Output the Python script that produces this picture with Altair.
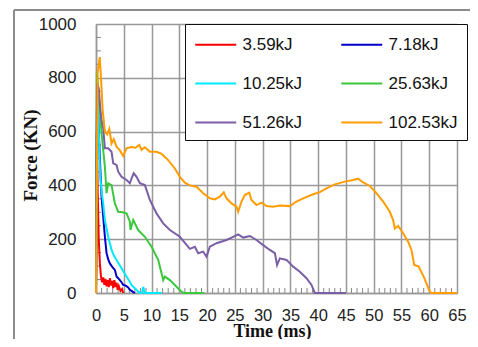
import altair as alt
import pandas as pd

series_names = ["3.59kJ", "7.18kJ", "10.25kJ", "25.63kJ", "51.26kJ", "102.53kJ"]
series_colors = ["#ff0000", "#0000c8", "#00e8ff", "#3cc83c", "#7a5ea6", "#ff9c00"]

t_359 = [0, 0.15, 0.3, 0.5, 0.7, 0.9, 1.1, 1.3, 1.5, 1.7, 1.9, 2.1, 2.3, 2.5, 2.7, 2.9, 3.1, 3.3, 3.5, 3.7, 3.9, 4.1, 4.4, 4.7, 4.9]
f_359 = [0, 600, 380, 200, 110, 60, 40, 58, 30, 52, 25, 48, 22, 55, 28, 45, 18, 48, 22, 38, 12, 26, 8, 15, 0]

t_718 = [0, 0.2, 0.5, 0.8, 1.0, 1.3, 1.6, 1.9, 2.2, 2.5, 3.0, 3.4, 3.7, 4.0, 4.3, 4.6, 4.9, 5.3, 5.8, 6.1, 6.4, 6.8, 7.0]
f_718 = [0, 780, 600, 450, 360, 284, 209, 148, 125, 110, 95, 86, 61, 55, 48, 40, 30, 28, 21, 12, 8, 2, 0]

t_1025 = [0, 0.25, 0.5, 0.72, 1.0, 1.3, 1.6, 2.2, 2.8, 3.2, 3.7, 4.6, 5.5, 6.0, 6.4, 7.3, 7.9, 8.3, 8.5, 8.8, 11.8]
f_1025 = [0, 760, 600, 445, 380, 333, 271, 209, 160, 140, 123, 92, 61, 45, 30, 11, 0, 0, 23, 0, 0]

t_2563 = [0, 0.15, 0.4, 0.7, 1.0, 1.3, 1.6, 1.9, 2.2, 2.8, 3.4, 4.0, 4.8, 5.5, 6.1, 6.2, 6.7, 7.6, 8.8, 10.0, 11.2, 11.8, 12.1, 12.4, 13.3, 14.5, 15.4, 15.8, 19.5]
f_2563 = [0, 820, 760, 680, 594, 530, 470, 371, 408, 401, 333, 302, 300, 296, 265, 234, 271, 234, 209, 172, 123, 73, 48, 61, 48, 23, 5, 0, 0]

t_5126 = [0, 0.2, 0.5, 0.8, 1.0, 1.3, 1.6, 2.2, 2.8, 3.1, 3.7, 4.0, 4.6, 5.5, 6.1, 6.4, 6.8, 7.3, 7.9, 8.8, 9.7, 10.9, 12.1, 13.3, 15.1, 16.9, 17.8, 18.4, 19.3, 19.9, 20.5, 21.7, 23.5, 24.7, 25.6, 26.5, 27.7, 28.9, 30.1, 31.3, 32.2, 32.6, 33.1, 34.3, 35.5, 36.7, 37.9, 38.8, 39.4, 45]
f_5126 = [0, 780, 760, 680, 640, 612, 538, 538, 525, 482, 476, 451, 432, 420, 408, 426, 445, 432, 408, 401, 346, 296, 259, 234, 209, 164, 172, 148, 154, 135, 172, 185, 197, 209, 218, 206, 212, 197, 178, 160, 148, 104, 129, 123, 98, 79, 55, 30, 0, 0]

t_10253 = [0, 0.3, 0.67, 0.9, 1.2, 1.6, 2.0, 2.4, 2.8, 3.2, 3.7, 4.3, 4.9, 5.5, 6.4, 7.1, 7.8, 8.2, 8.8, 9.7, 10.9, 11.8, 13.0, 14.2, 15.1, 16.0, 16.9, 18.1, 19.3, 20.5, 21.4, 22.3, 23.0, 23.5, 24.4, 25.3, 25.6, 26.2, 26.8, 27.6, 28.0, 28.9, 29.8, 30.7, 31.9, 33.1, 34.9, 36.1, 37.3, 39.1, 40.3, 41.5, 43.0, 44.8, 46.3, 47.2, 48.1, 49.3, 50.5, 51.7, 52.9, 53.5, 53.8, 54.4, 55.3, 56.2, 56.8, 57.3, 58.1, 59.0, 60.1, 60.4, 65]
f_10253 = [0, 820, 877, 800, 680, 600, 590, 610, 556, 572, 544, 530, 509, 538, 543, 540, 550, 532, 542, 525, 525, 517, 494, 463, 432, 410, 400, 395, 371, 352, 348, 358, 374, 352, 333, 321, 302, 340, 364, 373, 346, 327, 336, 323, 321, 325, 323, 340, 352, 367, 375, 389, 404, 414, 420, 425, 411, 398, 371, 340, 302, 271, 240, 249, 222, 191, 160, 104, 98, 61, 5, 0, 0]

x_ticks = list(range(0, 70, 5))
y_ticks = [0, 200, 400, 600, 800, 1000]
x_minor = [t for t in range(0, 66) if t % 5 != 0]
y_minor = [v for v in range(50, 1000, 50) if v % 200 != 0]

all_t = [t_359, t_718, t_1025, t_2563, t_5126, t_10253]
all_f = [f_359, f_718, f_1025, f_2563, f_5126, f_10253]
rows = []
for name, ts, fs in zip(series_names, all_t, all_f):
    for t, f in zip(ts, fs):
        rows.append({"Energy": name, "Time": t, "Force": f})
df = pd.DataFrame(rows)

W, H = 361, 269
FONT = "Liberation Sans"
SERIF = "Liberation Serif"

xscale = alt.Scale(domain=[0, 65], nice=False)
yscale = alt.Scale(domain=[0, 1000], nice=False)

x_axis = alt.Axis(values=x_ticks, title="Time (ms)", grid=True, ticks=False,
                  labelOverlap=False, labelFlush=False,
                  labelPadding=14, labelFontSize=16.5, labelFont=FONT, labelColor="#222",
                  titleFont=SERIF, titleFontSize=18, titleFontWeight="bold", titleColor="#111",
                  titleBaseline="alphabetic", titleY=43, titleX=176,
                  domainColor="#999", domainWidth=1.5, gridColor="#999", gridWidth=1.5)
y_axis = alt.Axis(values=y_ticks, title="Force (KN)", grid=True, ticks=False, format="d",
                  labelOverlap=False, labelFlush=False,
                  labelPadding=20, labelFontSize=17, labelFont=FONT, labelColor="#222",
                  titleFont=SERIF, titleFontSize=19, titleFontWeight="bold", titleColor="#111",
                  titleBaseline="middle", titleX=-66, titleY=131, titleAngle=-90,
                  domainColor="#999", domainWidth=1.5, gridColor="#999", gridWidth=1.5)

lines = alt.Chart(df).mark_line(strokeWidth=2).encode(
    x=alt.X("Time:Q", scale=xscale, axis=x_axis),
    y=alt.Y("Force:Q", scale=yscale, axis=y_axis),
    color=alt.Color("Energy:N",
                    scale=alt.Scale(domain=series_names, range=series_colors),
                    legend=alt.Legend(title=None, orient="none", legendX=89, legendY=0,
                                      columns=2, direction="horizontal",
                                      columnPadding=34, rowPadding=19,
                                      symbolType="M-1,0L3,0", symbolSize=420, symbolStrokeWidth=2,
                                      labelFont=FONT, labelFontSize=17, labelColor="#111",
                                      labelOffset=25.5, padding=9,
                                      strokeColor="#111", fillColor="white")),
)

minor_x_df = pd.DataFrame({"Time": x_minor})
minor_y_df = pd.DataFrame({"Force": y_minor})

mx = alt.Chart(minor_x_df).mark_rule(color="#888", strokeWidth=1).encode(
    x=alt.X("Time:Q", scale=xscale, axis=x_axis), y=alt.value(H), y2=alt.value(H - 5))
my = alt.Chart(minor_y_df).mark_rule(color="#888", strokeWidth=1).encode(
    y=alt.Y("Force:Q", scale=yscale, axis=y_axis), x=alt.value(0), x2=alt.value(5))

frame_top = alt.Chart(minor_x_df).mark_rule(color="#8c8c8c", strokeWidth=2).encode(
    x=alt.value(-82), x2=alt.value(600), y=alt.value(-14))
frame_left = alt.Chart(minor_x_df).mark_rule(color="#8c8c8c", strokeWidth=2).encode(
    x=alt.value(-82), y=alt.value(-14), y2=alt.value(600))

chart = alt.layer(frame_top, frame_left, mx, my, lines).properties(
    width=W, height=H,
    autosize=alt.AutoSizeParams(type="none"),
    padding={"left": 88, "top": 16, "right": 13, "bottom": 46},
).configure_view(stroke="#999", strokeWidth=1.5).configure(background="white")

chart.save("out.html", embed_options={"renderer": "svg", "actions": False})
